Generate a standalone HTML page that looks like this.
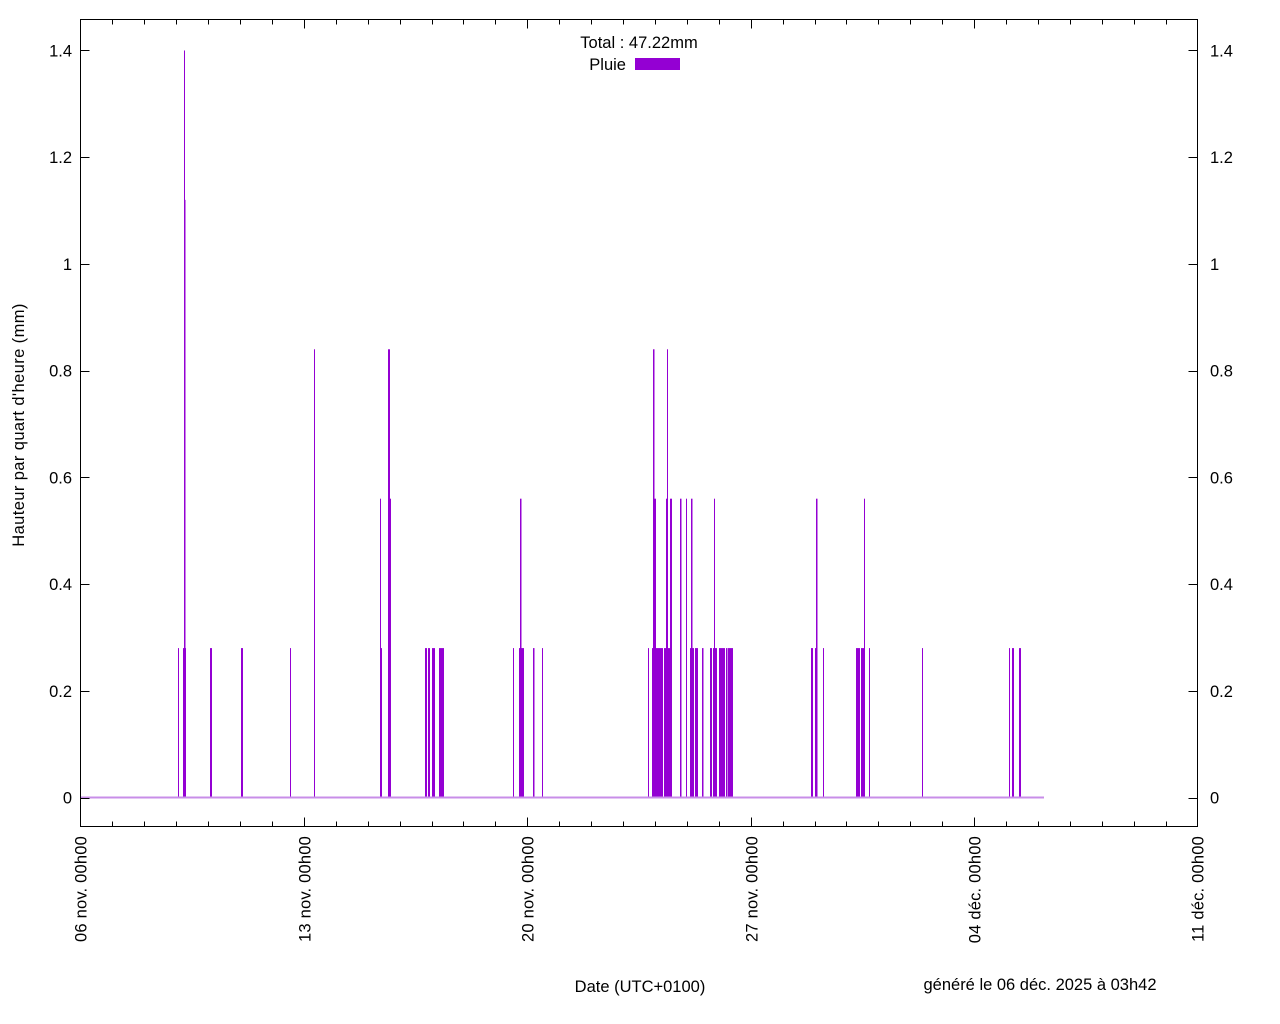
<!DOCTYPE html>
<html><head><meta charset="utf-8"><style>
html,body{margin:0;padding:0;background:#fff;}
svg{display:block;}
text{font-family:"Liberation Sans","DejaVu Sans",sans-serif;font-size:16.5px;fill:#000;}
</style></head><body>
<svg id="s" width="1280" height="1024" xmlns="http://www.w3.org/2000/svg">
<rect x="0" y="0" width="1280" height="1024" fill="#fff"/>
<g id="bars" fill="#9400d3"></g>
<line x1="81" y1="797.5" x2="1044" y2="797.5" stroke="#c88ee8" stroke-width="2"/>
<g id="axes" stroke="#000" stroke-width="1" fill="none">
<rect x="80.5" y="19.5" width="1117" height="807"/>
</g>
<g id="lbl"></g>
<text x="639" y="48" text-anchor="middle">Total : 47.22mm</text>
<text x="626" y="70" text-anchor="end">Pluie</text>
<rect x="635" y="58" width="45" height="12" fill="#9400d3"/>
<text transform="translate(24,425) rotate(-90)" text-anchor="middle" style="letter-spacing:0.4px">Hauteur par quart d'heure (mm)</text>
<text x="640" y="992" text-anchor="middle">Date (UTC+0100)</text>
<text x="1040" y="990" text-anchor="middle">généré le 06 déc. 2025 à 03h42</text>
</svg>
<script>
var NS="http://www.w3.org/2000/svg";
function el(t,a,p,txt){var e=document.createElementNS(NS,t);for(var k in a)e.setAttribute(k,a[k]);if(txt!==undefined)e.textContent=txt;document.getElementById(p).appendChild(e);return e;}
var Y0=797.5,U=533.6;
var B=[[178,1,.28],[183,3,.28],[184,1.5,1.12],[184,1,1.4],[210,2,.28],[241,2,.28],[290,1,.28],[314,1,.84],
[380,1,.56],[380.5,1.5,.28],[388,2,.84],[388,3,.56],[425,2,.28],[428,1,.28],[429,1,.28],[432,3,.28],[439,5,.28],
[513,1,.28],[519,5,.28],[520,1.5,.56],[533,1.5,.28],[542,1,.28],
[648,1,.28],[652,11,.28],[653,1.5,.84],[654,2,.56],[664,8,.28],[666,2,.56],[667,1,.84],[670,2,.56],[680,1.5,.56],[686,1,.56],
[690,4,.28],[691,1.5,.56],[695,3,.28],[702,1.5,.28],[710,2,.28],[713,4,.28],[714,1,.56],[719,6,.28],[726,1.5,.28],[728,5,.28],
[811,2,.28],[815,2,.28],[816,1.5,.56],[823,1,.28],[856,4,.28],[861,3,.28],[864,1,.56],[869,1,.28],[922,1,.28],
[1009,1,.28],[1012,2,.28],[1019,2,.28]];
B.forEach(function(b){var h=b[2]*U;el("rect",{x:b[0],y:Y0-h,width:b[1],height:h},"bars");});
var L=80.5,R=1197.5,T=19.5,Bt=826.5;
for(var i=0;i<=7;i++){var y=Y0-i*0.2*U;var yy=Math.round(y)+0.5;
el("line",{x1:L,y1:yy,x2:L+9,y2:yy},"axes");el("line",{x1:R,y1:yy,x2:R-9,y2:yy},"axes");
var s=i==0?"0":i==5?"1":(i*0.2).toFixed(1);
el("text",{x:72,y:y+6,"text-anchor":"end"},"lbl",s);el("text",{x:1210,y:y+6,"text-anchor":"start"},"lbl",s);}
var names=["06 nov. 00h00","13 nov. 00h00","20 nov. 00h00","27 nov. 00h00","04 déc. 00h00","11 déc. 00h00"];
var D=(1197.5-80.5)/35;
for(var d=0;d<=35;d++){var x=Math.round(80.5+d*D)+0.5;if(d==0)x=80.5;if(d==35)x=1197.5;var len=(d%7==0)?9:5;
el("line",{x1:x,y1:Bt,x2:x,y2:Bt-len},"axes");el("line",{x1:x,y1:T,x2:x,y2:T+len},"axes");
if(d%7==0){el("text",{transform:"translate("+(x+6)+",836) rotate(-90)","text-anchor":"end",style:"letter-spacing:0.2px"},"lbl",names[d/7]);}}
</script>
</body></html>
